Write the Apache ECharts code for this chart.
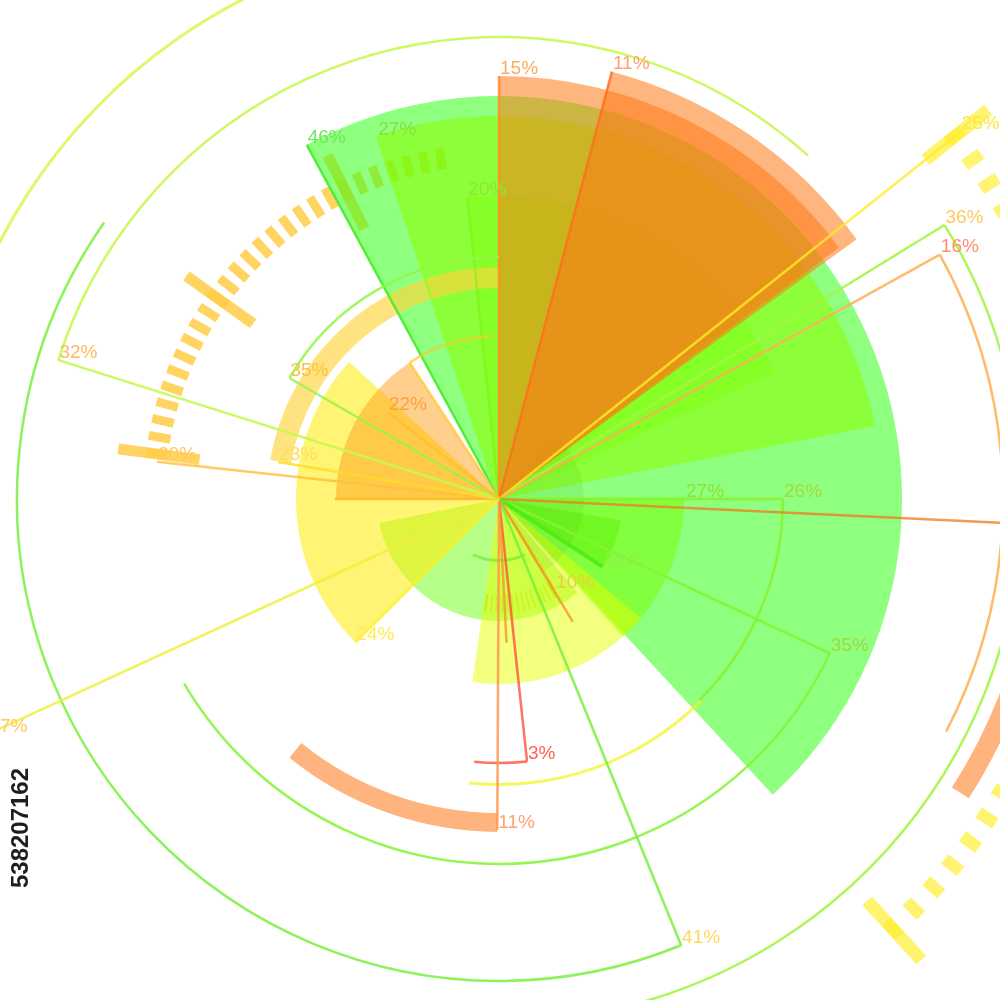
<!DOCTYPE html>
<html><head><meta charset="utf-8">
<script src="https://cdn.jsdelivr.net/npm/echarts@6/dist/echarts.min.js"></script>
<style>html,body{margin:0;padding:0;background:#fff}#chart{width:1000px;height:1000px}</style>
</head><body><div id="chart"></div>
<script>
// ---------- DATA (angle: degrees clockwise from 12 o'clock, value: radial units) ----------
// filled sectors: [startAngle, endAngle, innerValue, outerValue]
const sectors = [
  [331.5, 137.2, 0, 403],
  [341.4, 79, 0, 383],
  [354, 65.4, 0, 303],
  [90, 138, 0, 185],
  [140, 258.6, 0, 122],
  [130, 188.3, 0, 185],
  [100, 123.2, 0, 124],
  [40, 150, 0, 85],
  [0, 53.5, 0, 423],
  [14.8, 54, 0, 442],
  [225, 312.4, 0, 203],
  [270, 326.8, 0, 163]
];
// ring bands / thin arcs: [startAngle, endAngle, innerValue, outerValue]
const bands = [
  [279.7, 360, 211, 232],
  [180.3, 219, 314, 333],
  [95, 122.5, 537, 557],
  [135, 186, 284, 287],
  [292, 336, 560, 563],
  [155, 205, 60, 63]
];
// radial markers: [angle, value, arcEndAngle or null]
const markers = [
  [331.5, 403, null], [341.4, 382, null], [354, 303, null], [0, 423, null],
  [14.8, 442, null], [51.5, 590, null], [58.4, 523, 165], [61, 504, 117.5],
  [90, 284, 135], [90, 186, null], [92.7, 620, null], [115, 365, 239.6],
  [123.2, 124, null], [148.4, 107, null], [149, 143, null], [157.8, 482, 305],
  [173.9, 264, 185.4], [177, 144, null], [180.3, 331, null], [225, 203, null],
  [245.3, 562, null], [270, 164, null], [276.2, 344, null], [279.5, 224, null],
  [287.5, 462, 402], [300, 242, 360], [308, 141, null], [326.8, 163, 358]
];
const markerLabels = ['46%','27%','20%','15%','11%','25%','36%','16%','26%','27%','','35%',
  '38%','10%','','41%','3%','','11%','24%','27%','16%','20%','23%','32%','35%','22%',''];
// tick rings: [startAngle, endAngle, major segments, ticks per segment]
const tickRings = [
  [277.5, 333.5, 2, 10],
  [333.5, 350.3, 1, 6],
  [51.5, 137.5, 1, 30],
  [150, 187, 1, 13]
];
const stockId = '538207162';

// ---------- STYLES ----------
const sectorColors = [
  'rgba(51,255,24,0.55)', 'rgba(138,255,0,0.55)', 'rgba(120,255,0,0.35)', 'rgba(120,255,0,0.5)',
  'rgba(110,255,20,0.5)', 'rgba(230,255,0,0.5)', 'rgba(90,240,0,0.45)', 'rgba(60,160,0,0.10)',
  'rgba(255,120,20,0.55)', 'rgba(255,120,20,0.55)', 'rgba(255,235,0,0.55)', 'rgba(255,160,30,0.5)'
];
const bandColors = [
  'rgba(255,212,60,0.65)', 'rgba(255,140,60,0.65)', 'rgba(255,140,60,0.65)',
  'rgba(240,245,40,0.75)', 'rgba(215,248,80,0.85)', 'rgba(100,230,40,0.6)'
];
const markerColors = [
  'rgba(70,235,40,0.9)', 'rgba(140,255,40,0.7)', 'rgba(130,240,20,0.6)', 'rgba(255,140,40,0.85)',
  'rgba(255,110,30,0.85)', 'rgba(255,235,40,0.8)', 'rgba(165,245,70,0.9)', 'rgba(255,175,80,0.85)',
  'rgba(140,240,40,0.85)', 'rgba(120,255,30,0.6)', 'rgba(235,130,40,0.8)', 'rgba(130,245,50,0.85)',
  'rgba(80,235,20,0.9)', 'rgba(240,200,30,0.6)', 'rgba(240,140,30,0.7)', 'rgba(120,240,60,0.85)',
  'rgba(255,80,60,0.8)', 'rgba(250,150,40,0.8)', 'rgba(255,150,80,0.85)', 'rgba(255,240,40,0.8)',
  'rgba(240,240,60,0.85)', 'rgba(255,180,30,0.8)', 'rgba(255,190,60,0.8)', 'rgba(255,220,40,0.85)',
  'rgba(200,248,80,0.9)', 'rgba(150,245,70,0.85)', 'rgba(255,190,40,0.8)', 'rgba(255,200,40,0.7)'
];
const markerWidths = markers.map((m, i) => i === 12 ? 4 : 2.5);
const labelColors = [
  '#6ae85a', '#86e040', '#8ee830', '#ffab5a', '#ffa070', '#ffe640', '#ffc860', '#ff8f6a',
  '#a6d840', '#90e030', '', '#a0d840', '#8ef048', '#e8d040', '', '#ffd860',
  '#ff6450', '', '#ffa070', '#ffec50', '#ffc860', '#ffd040', '#ffc860', '#ffe050',
  '#ffb860', '#ffc040', '#ffa040', ''
];
const tickColors = ['rgba(255,205,70,0.85)', 'rgba(255,205,70,0.85)', 'rgba(255,240,50,0.7)', 'rgba(225,165,0,0.5)'];
const tickGeom = [ // radius, splitLen, splitW, tickDist, tickLen, tickW
  [384, 82, 11, 28, 22, 9],
  [384, 82, 11, 28, 22, 9],
  [625, 80, 13, 32, 20, 12],
  [114, 18, 2, 0.01, 18, 2]
];
const LABEL_FONT = '19px "Liberation Sans", Arial, sans-serif';
const CX = 499, CY = 499;

function sectorShape(api, a0, a1, v0, v1) {
  const c = api.coord([0, 0]);
  const p0 = api.coord([v1, a0]);
  const p1 = api.coord([v1, a1]);
  const q0 = api.coord([v0, a0]);
  const r = Math.hypot(p0[0] - c[0], p0[1] - c[1]);
  const r0 = Math.hypot(q0[0] - c[0], q0[1] - c[1]);
  const s = Math.atan2(p0[1] - c[1], p0[0] - c[0]);
  let e = Math.atan2(p1[1] - c[1], p1[0] - c[0]);
  while (e <= s) e += Math.PI * 2;
  return { cx: c[0], cy: c[1], r0: r0, r: r, startAngle: s, endAngle: e, clockwise: true };
}

function sectorSeries(list, colors, z) {
  return {
    type: 'custom', coordinateSystem: 'polar', silent: true, z: z,
    data: list.map(d => [d[3], d[0]]),
    renderItem: function (params, api) {
      const d = list[params.dataIndex];
      return { type: 'sector', shape: sectorShape(api, d[0], d[1], d[2], d[3]),
        style: { fill: colors[params.dataIndex], stroke: null } };
    }
  };
}

const gauges = tickRings.map((t, i) => {
  const g = tickGeom[i];
  return {
    type: 'gauge', center: [CX, CY], radius: g[0], z: 0, silent: true,
    startAngle: 90 - t[0], endAngle: 90 - t[1], clockwise: true,
    min: 0, max: 100, splitNumber: t[2],
    axisLine: { show: false, lineStyle: { width: 0 } },
    progress: { show: false }, pointer: { show: false }, anchor: { show: false },
    title: { show: false }, detail: { show: false }, axisLabel: { show: false },
    splitLine: { show: i !== 1, length: g[1], distance: 0, lineStyle: { color: tickColors[i], width: g[2], cap: 'butt' } },
    axisTick: { show: true, splitNumber: t[3], length: g[4], distance: g[3], lineStyle: { color: tickColors[i], width: g[5], cap: 'butt' } },
    data: [{ value: 0 }]
  };
});

const option = {
  backgroundColor: '#ffffff',
  animation: false,
  polar: { center: [CX, CY], radius: 600 },
  angleAxis: { type: 'value', min: 0, max: 360, startAngle: 90, clockwise: true, show: false,
    axisLine: { show: false }, splitLine: { show: false }, axisTick: { show: false }, axisLabel: { show: false } },
  radiusAxis: { type: 'value', min: 0, max: 600, show: false,
    axisLine: { show: false }, splitLine: { show: false }, axisTick: { show: false }, axisLabel: { show: false } },
  series: gauges.concat([
    sectorSeries(sectors, sectorColors, 1),
    sectorSeries(bands, bandColors, 2),
    {
      type: 'custom', coordinateSystem: 'polar', silent: true, z: 5,
      data: markers.map(m => [m[1], m[0]]),
      renderItem: function (params, api) {
        const i = params.dataIndex;
        const m = markers[i];
        const c = api.coord([0, 0]);
        const p = api.coord([m[1], m[0]]);
        const st = { stroke: markerColors[i], lineWidth: markerWidths[i], fill: null };
        const children = [{ type: 'line', shape: { x1: c[0], y1: c[1], x2: p[0], y2: p[1] }, style: st }];
        if (m[2] !== null) {
          const sh = sectorShape(api, m[0], m[2], 0, m[1]);
          children.push({ type: 'arc', shape: { cx: sh.cx, cy: sh.cy, r: sh.r, startAngle: sh.startAngle, endAngle: sh.endAngle, clockwise: true }, style: st });
        }
        return { type: 'group', children: children };
      }
    },
    {
      type: 'custom', coordinateSystem: 'polar', silent: true, z: 6,
      data: markers.map(m => [m[1], m[0]]),
      renderItem: function (params, api) {
        const i = params.dataIndex;
        if (!markerLabels[i]) return null;
        const m = markers[i];
        const p = api.coord([m[1], m[0]]);
        return { type: 'text', x: p[0] + 1, y: p[1] + 2,
          style: { text: markerLabels[i], fill: labelColors[i], font: LABEL_FONT, align: 'left', verticalAlign: 'bottom' } };
      }
    }
  ]),
  graphic: [{
    type: 'text', x: 21, y: 828, rotation: Math.PI / 2, z: 100,
    style: { text: stockId, fill: '#1e1e1e', font: 'bold 24px "Liberation Sans", Arial, sans-serif', align: 'center', verticalAlign: 'middle' }
  }]
};

const chart = echarts.init(document.getElementById('chart'), null, { renderer: 'canvas' });
chart.setOption(option);
</script></body></html>
